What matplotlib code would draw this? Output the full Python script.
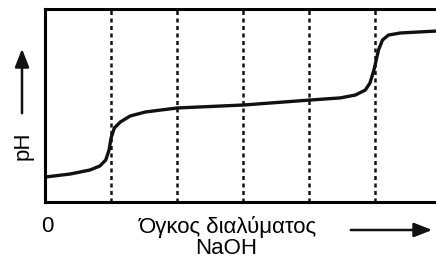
import matplotlib.pyplot as plt
from matplotlib.patches import FancyArrowPatch

plt.rcParams['font.family'] = ['Liberation Sans', 'DejaVu Sans']

# titration curve (volume units, pH-like units)
volume = [0, 0.38, 0.68, 0.83, 0.92, 0.97, 1.0, 1.05, 1.14, 1.29, 1.52, 2.0,
          3.02, 4.02, 4.47, 4.70, 4.85, 4.92, 4.98, 5.05, 5.11, 5.20, 5.38, 5.92]
ph = [1.81, 2.03, 2.32, 2.61, 3.05, 3.77, 4.64, 5.37, 5.8, 6.24, 6.53, 6.82,
      7.04, 7.4, 7.55, 7.76, 8.12, 8.63, 9.57, 11.03, 11.75, 12.11, 12.26, 12.4]
marks = [1, 2, 3, 4, 5]

fig = plt.figure(figsize=(4.36, 2.59), dpi=100)
ax = fig.add_axes([45 / 436, 1 - 202 / 259, 1 - 45 / 436 + 0.01, (202 - 9) / 259])

ax.plot(volume, ph, color='#111111', lw=2.4, solid_capstyle='round')
for m in marks:
    ax.axvline(m, color='#111111', lw=1.8, linestyle=(0, (1.6, 1.4)))

ax.set_xlim(0, 5.92 + 0.01 * 436 / 66)
ax.set_ylim(0, 14)
ax.set_xticks([])
ax.set_yticks([])
for s in ['left', 'top', 'bottom']:
    ax.spines[s].set_linewidth(2.2)
ax.spines['right'].set_visible(False)

fig.text(47 / 436, 1 - 232 / 259, '0', ha='center', va='baseline', fontsize=16)
fig.text(228 / 436, 1 - 233 / 259, 'Όγκος διαλύματος', ha='center', va='baseline', fontsize=16)
fig.text(226 / 436, 1 - 254 / 259, 'NaOH', ha='center', va='baseline', fontsize=16)
fig.text(23 / 436, 1 - 146 / 259, 'pH', ha='center', va='center', rotation=90, fontsize=16)

# arrows
fig.add_artist(FancyArrowPatch(
    (22 / 436, 1 - 116 / 259), (22 / 436, 1 - 46 / 259), transform=fig.transFigure,
    arrowstyle='-|>,head_length=11,head_width=4.3', color='#111111', lw=1.8))
fig.add_artist(FancyArrowPatch(
    (348 / 436, 1 - 230 / 259), (435 / 436, 1 - 230 / 259), transform=fig.transFigure,
    arrowstyle='-|>,head_length=11,head_width=4.3', color='#111111', lw=1.8))

fig.savefig('out.png', dpi=100)
